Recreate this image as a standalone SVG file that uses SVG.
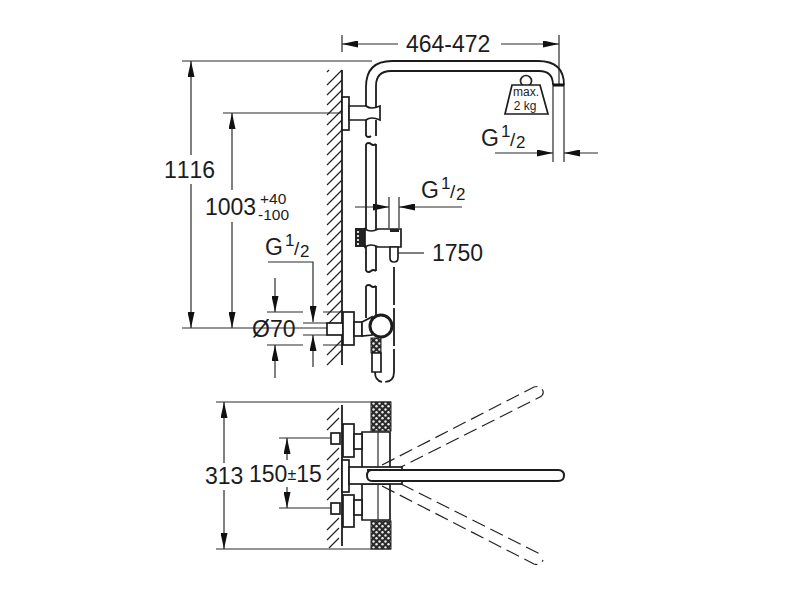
<svg xmlns="http://www.w3.org/2000/svg" width="800" height="600" viewBox="0 0 800 600">
<style>
text{font-family:"Liberation Sans",Arial,sans-serif;fill:#1c1c1c;font-kerning:none}
.t{font-size:23px}
.s{font-size:15.500px}
.n{font-size:17px}
.f{font-size:19px}
.w{font-size:12px;text-anchor:middle}
.d{fill:none;stroke:#2a2a2a;stroke-width:1.2}
.o{fill:none;stroke:#1c1c1c;stroke-width:1.8}
.p{fill:#fff;stroke:#1c1c1c;stroke-width:1.7}
.h{fill:none;stroke:#222;stroke-width:1.2}
.k{fill:none;stroke:#222;stroke-width:1.2;stroke-dasharray:14 6}
</style>
<defs>
<marker id="a" viewBox="0 0 16 7" refX="16" refY="3.500" markerWidth="16" markerHeight="7" markerUnits="userSpaceOnUse" orient="auto"><path d="M0 0L16 3.500L0 7Z" fill="#111"/></marker>
<pattern id="dots" width="6" height="6" patternUnits="userSpaceOnUse"><rect width="6" height="6" fill="#2a2a2a"/><circle cx="1.500" cy="1.500" r="1.200" fill="#eee"/><circle cx="4.500" cy="4.200" r="1.200" fill="#eee"/></pattern>
</defs>
<g id="connectors">
<path class="d" d="M342 35V52M559 35V85"/>
<path class="d" d="M398 44H342" marker-end="url(#a)"/>
<path class="d" d="M501 44H559" marker-end="url(#a)"/>
<path class="d" d="M182 61H372M182 328H342M223 113H342"/>
<path class="d" d="M191 155V61" marker-end="url(#a)"/>
<path class="d" d="M191 184V328" marker-end="url(#a)"/>
<path class="d" d="M232 190V113" marker-end="url(#a)"/>
<path class="d" d="M232 222V328" marker-end="url(#a)"/>
<path class="d" d="M553 85V162M564 85V162"/>
<path class="d" d="M495 153H553" marker-end="url(#a)"/>
<path class="d" d="M598 153H564" marker-end="url(#a)"/>
<path class="d" d="M389 197V228M399 197V228"/>
<path class="d" d="M355 207H389" marker-end="url(#a)"/>
<path class="d" d="M462 207H399" marker-end="url(#a)"/>
<path class="d" d="M398 253H424"/>
<path class="d" d="M267 312H303M323 312H343M267 345H303M323 345H343M303 323H327M303 335H327"/>
<path class="d" d="M275 278V312" marker-end="url(#a)"/>
<path class="d" d="M275 378V345" marker-end="url(#a)"/>
<path class="d" d="M268 262H313V322" marker-end="url(#a)"/>
<path class="d" d="M313 367V335" marker-end="url(#a)"/>
<path class="d" d="M216 402H391M216 549H391M279 438H331M279 508H331"/>
<path class="d" d="M224 463V402" marker-end="url(#a)"/>
<path class="d" d="M224 490V549" marker-end="url(#a)"/>
<path class="d" d="M287 460V438" marker-end="url(#a)"/>
<path class="d" d="M287 487V508" marker-end="url(#a)"/>
</g>
<g id="wall-upper">
<path class="o" d="M342 70V365"/>
<path class="h" d="M342 70l-15 15M342 80l-15 15M342 90l-15 15M342 100l-15 15M342 110l-15 15M342 120l-15 15M342 130l-15 15M342 140l-15 15M342 150l-15 15M342 160l-15 15M342 170l-15 15M342 180l-15 15M342 190l-15 15M342 200l-15 15M342 210l-15 15M342 220l-15 15M342 230l-15 15M342 240l-15 15M342 250l-15 15M342 260l-15 15M342 270l-15 15M342 280l-15 15M342 290l-15 15M342 300l-15 15M342 310l-15 15M342 340l-15 15M342 350l-15 15M329 70l-2 2"/>
</g>
<g id="shower-rail">
<path class="o" d="M366 107V87Q366 61 392 61H538Q564 61 564 85M376 107V86Q376 71 391 71H539Q553 71 553 85"/>
<path d="M553 85H564" stroke="#111" stroke-width="3"/>
<path class="o" d="M366 120V136M376 120V136M366 136q3 2 5 0"/>
<path class="o" d="M366 144q3-2 5 0q2 2 5 0M366 144V271M376 144V271M366 271q3 2 5 0q2-2 5 0"/>
<path class="o" d="M366 286q3-2 5 0q2 2 5 0M366 286V318M376 286V318"/>
<rect class="p" x="342" y="97" width="7" height="33"/>
<path class="p" d="M349 106H366Q371 110 380 106V120Q371 116 366 120H349Z"/>
</g>
<g id="weight">
<circle cx="526" cy="81" r="5.500" fill="none" stroke="#222" stroke-width="1.700"/>
<path class="p" d="M512 85H540L548 114H505Z"/>
<text class="w" x="526" y="96">max.</text>
<text class="w" x="525" y="110">2 kg</text>
</g>
<g id="slider">
<rect x="355" y="228" width="10" height="19" fill="#222"/>
<path d="M358 231v14" stroke="#ddd" stroke-width="2" stroke-dasharray="2 2"/>
<path class="p" d="M365 229Q371 233 378 229H401V247H378Q371 243 365 247Z"/>
<path d="M390 229H399V232H390Z" fill="#222"/>
<path class="p" d="M390 247H398V258Q398 262 394 262Q390 262 390 258Z"/>
<path class="o" d="M394 267V372Q394 382 384 382Q375 382 375 372" stroke-dasharray="38 3"/>
</g>
<g id="mixer-side">
<rect class="p" x="327" y="323" width="16" height="12"/>
<rect class="p" x="343" y="312" width="11" height="33"/>
<rect class="p" x="354" y="322" width="8" height="14"/>
<path class="p" d="M362 322L372 317V335L362 336Z"/>
<circle cx="381" cy="326" r="11" fill="#fff" stroke="#1c1c1c" stroke-width="3"/>
<rect x="371" y="338" width="10" height="15" fill="url(#dots)" stroke="#222"/>
<path class="p" d="M372 353H381V372H372Z"/>
</g>
<g id="wall-lower">
<path class="o" d="M342 405V546"/>
<path class="h" d="M339 408l-12 12M339 418l-12 12M339 448l-12 12M339 458l-12 12M339 468l-12 12M339 478l-12 12M339 488l-12 12M339 518l-12 12M339 528l-12 12M339 538l-10 10"/>
</g>
<g id="mixer-top">
<rect x="371" y="402" width="20" height="29" fill="url(#dots)" stroke="#222"/>
<rect x="371" y="521" width="20" height="28" fill="url(#dots)" stroke="#222"/>
<path class="p" d="M362 432H390V468H362ZM362 484H390V520H362Z"/>
<path class="d" d="M378 432V520"/>
<rect class="p" x="331" y="433" width="9" height="11"/>
<rect class="p" x="331" y="503" width="9" height="11"/>
<rect class="p" x="343" y="424" width="11" height="33"/>
<rect class="p" x="343" y="495" width="11" height="32"/>
<rect class="p" x="342" y="460" width="7" height="32"/>
<rect class="p" x="354" y="434" width="8" height="15"/>
<rect class="p" x="354" y="500" width="8" height="15"/>
<rect class="p" x="349" y="467" width="53" height="17"/>
<path d="M367 470H558Q564 470 564 475.500Q564 481 558 481H372Q367 481 367 475.500Q367 470 372 470Z" fill="#fff" stroke="#1c1c1c" stroke-width="2"/>
</g>
<g id="handle-swing">
<path class="k" d="M382 465L534 387Q541 385 543 391Q544 395 540 397L401 467"/>
<path class="k" d="M382 486L534 564Q541 566 543 560M401 484L540 554"/>
</g>
<g id="labels">
<text class="t" x="406" y="52">464-472</text>
<text class="t" x="481" y="146">G</text><text class="n" x="501" y="137">1</text><text class="f" x="510" y="146">/</text><text class="n" x="516" y="148">2</text>
<text class="t" x="421" y="198">G</text><text class="n" x="441" y="189">1</text><text class="f" x="450" y="198">/</text><text class="n" x="456" y="200">2</text>
<text class="t" x="265" y="255">G</text><text class="n" x="285" y="246">1</text><text class="f" x="294" y="255">/</text><text class="n" x="300" y="257">2</text>
<text class="t" x="164" y="178">1116</text>
<text class="t" x="205" y="215">1003</text>
<text class="s" x="260" y="204">+40</text>
<text class="s" x="258" y="220">-100</text>
<text class="t" x="432" y="261">1750</text>
<text class="t" x="252" y="337">Ø70</text>
<text class="t" x="205" y="484">313</text>
<text class="t" x="249" y="482">150<tspan style="font-size:16px" dy="-2">±</tspan><tspan dy="2">15</tspan></text>
</g>
</svg>
